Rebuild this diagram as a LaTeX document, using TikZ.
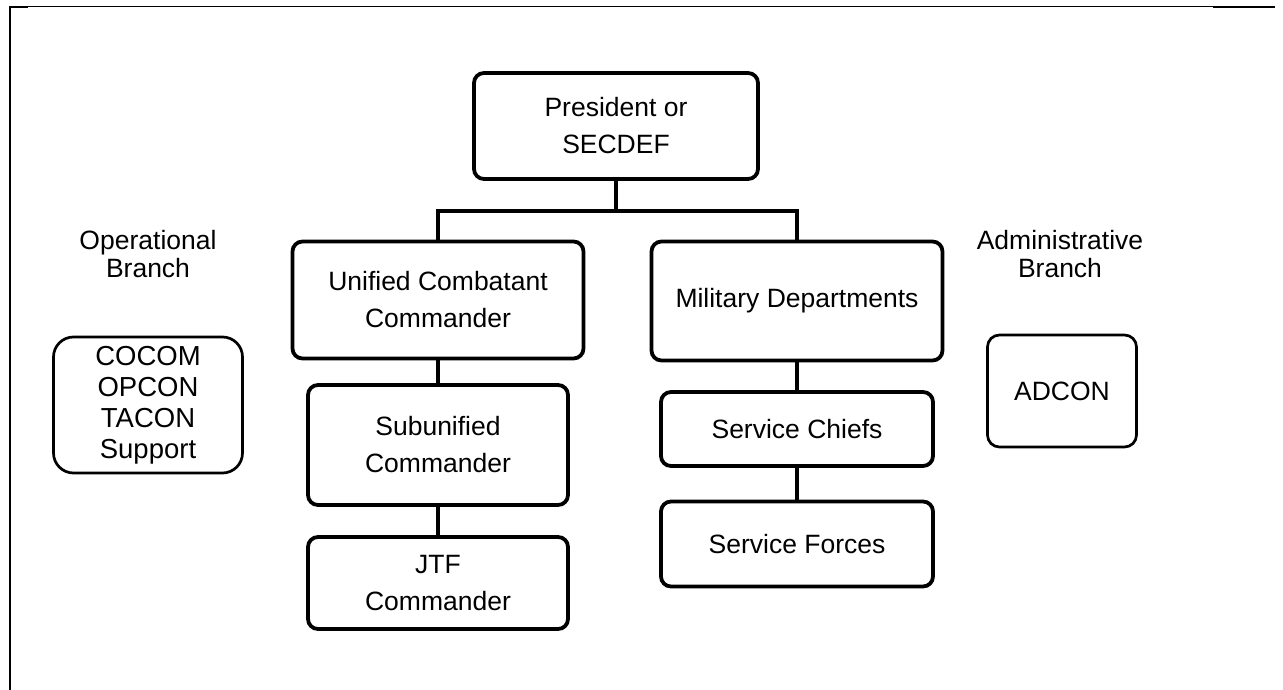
\documentclass[tikz,border=0pt]{standalone}
\usepackage{fontspec}
\setmainfont{Liberation Sans}
\begin{document}
\begin{tikzpicture}[x=1pt,y=-1pt,
  box/.style={draw, line width=3.8pt, rounded corners=10pt, align=center, inner sep=0pt,
    font=\fontsize{26.5}{37}\selectfont},
  sidebox/.style={draw, line width=2.7pt, align=center, inner sep=0pt,
    font=\fontsize{26.5}{28}\selectfont},
  lbl/.style={align=center, inner sep=0pt, font=\fontsize{26.5}{28}\selectfont},
  conn/.style={line width=3.2pt}]
\useasboundingbox (0,0) rectangle (1283,690);
% frame
\draw[line width=1.4pt] (9,6.5) -- (1213,6.5);
\draw[line width=2.4pt] (1213,7) -- (1275,7);
\draw[line width=2.4pt] (9,7) -- (28,7);
\draw[line width=2.6pt] (10,6) -- (10,690);
% nodes
\node[box, minimum width=284pt, minimum height=106pt] (pres) at (616,126) {President or\\SECDEF};
\node[box, minimum width=291pt, minimum height=117pt] (ucc) at (438,300) {Unified Combatant\\Commander};
\node[box, minimum width=291pt, minimum height=119pt] (mil) at (797,301) {Military Departments};
\node[box, minimum width=260pt, minimum height=120pt] (sub) at (438,445) {Subunified\\Commander};
\node[box, minimum width=260pt, minimum height=92pt] (jtf) at (438,583) {JTF\\Commander};
\node[box, minimum width=272pt, minimum height=74pt] (chief) at (797,429) {Service Chiefs};
\node[box, minimum width=272pt, minimum height=85pt] (forces) at (797,544) {Service Forces};
\node[sidebox, rounded corners=12pt, minimum width=149pt, minimum height=112pt] (adcon) at (1062,391) {ADCON};
\node[sidebox, rounded corners=20pt, minimum width=189pt, minimum height=136pt,
  font=\fontsize{27.5}{31}\selectfont] (cocom) at (148,405) {COCOM\\OPCON\\TACON\\Support};
\node[lbl] (opb) at (148,254) {Operational\\Branch};
\node[lbl] (adb) at (1060,254) {Administrative\\Branch};
% connectors
\coordinate (j) at (616,211);
\coordinate (jl) at (438,211);
\coordinate (jr) at (797,211);
\draw[conn] (pres.south) -- (j);
\draw[conn, line cap=rect] (jl) -- (jr);
\draw[conn] (jl) -- (ucc.north);
\draw[conn] (jr) -- (mil.north);
\draw[conn] (ucc.south) -- (sub.north);
\draw[conn] (sub.south) -- (jtf.north);
\draw[conn] (mil.south) -- (chief.north);
\draw[conn] (chief.south) -- (forces.north);
\end{tikzpicture}
\end{document}
